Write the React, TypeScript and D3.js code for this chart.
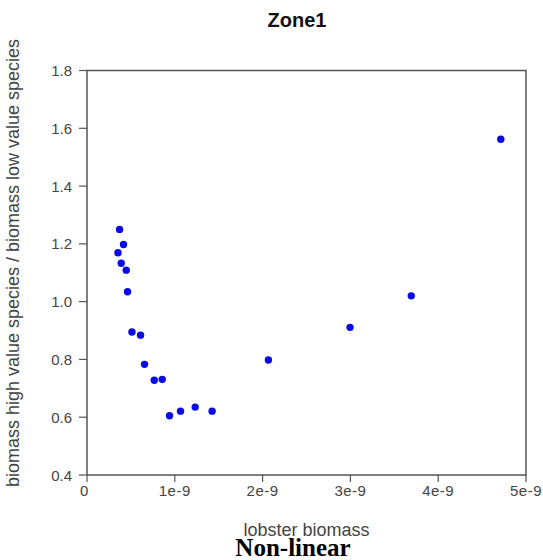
import React from "react";
import * as d3 from "d3";

// Lobster biomass (x) vs ratio of high-value to low-value species biomass (y)
const lobsterBiomass = [
  0.371e-9, 0.416e-9, 0.353e-9, 0.39e-9, 0.447e-9, 0.462e-9, 0.512e-9, 0.61e-9,
  0.655e-9, 0.766e-9, 0.857e-9, 0.94e-9, 1.065e-9, 1.232e-9, 1.425e-9, 2.066e-9,
  2.996e-9, 3.693e-9, 4.713e-9,
];
const biomassRatio = [
  1.25, 1.198, 1.169, 1.133, 1.109, 1.034, 0.895, 0.884,
  0.783, 0.728, 0.731, 0.605, 0.621, 0.635, 0.621, 0.798,
  0.911, 1.02, 1.562,
];

const xTicks = [0, 1e-9, 2e-9, 3e-9, 4e-9, 5e-9];
const xTickLabels = ["0", "1e-9", "2e-9", "3e-9", "4e-9", "5e-9"];
const yTicks = [0.4, 0.6, 0.8, 1.0, 1.2, 1.4, 1.6, 1.8];

const chartTitle = "Zone1";
const xTitle = "lobster biomass";
const yTitle = "biomass high value species / biomass low value species";
const caption = "Non-linear";

const W = 543;
const H = 560;
const plot = { left: 87, right: 526, top: 70.5, bottom: 475 };

export default function App() {
  const x = d3.scaleLinear().domain([0, 5e-9]).range([plot.left, plot.right]);
  const y = d3.scaleLinear().domain([0.4, 1.8]).range([plot.bottom, plot.top]);
  const points = lobsterBiomass.map((v, i) => ({ x: v, y: biomassRatio[i] }));
  const tickFont = "'Liberation Sans', Arial, sans-serif";
  const axisColor = "#555";

  return (
    <svg
      width={W}
      height={H}
      style={{ position: "absolute", left: 0, top: 0, background: "#fff" }}
    >
      <rect x={0} y={0} width={W} height={H} fill="#fff" />
      <text
        x={297}
        y={27}
        textAnchor="middle"
        fontFamily={tickFont}
        fontWeight="bold"
        fontSize={20}
        fill="#111"
      >
        {chartTitle}
      </text>

      {/* plot frame */}
      <rect
        x={plot.left}
        y={plot.top}
        width={plot.right - plot.left}
        height={plot.bottom - plot.top}
        fill="none"
        stroke={axisColor}
        strokeWidth={1.5}
      />

      {/* y axis ticks */}
      {yTicks.map((t) => (
        <g key={"y" + t}>
          <line
            x1={plot.left - 8}
            x2={plot.left}
            y1={y(t)}
            y2={y(t)}
            stroke={axisColor}
            strokeWidth={1.2}
          />
          <text
            x={plot.left - 15}
            y={y(t) + 5.5}
            textAnchor="end"
            fontFamily={tickFont}
            fontSize={15}
            fill="#444"
          >
            {d3.format(".1f")(t)}
          </text>
        </g>
      ))}

      {/* x axis ticks */}
      {xTicks.map((t, i) => (
        <g key={"x" + i}>
          <line
            x1={x(t)}
            x2={x(t)}
            y1={plot.bottom}
            y2={plot.bottom + 7}
            stroke={axisColor}
            strokeWidth={1.2}
          />
          <text
            x={x(t) - (i === 0 ? 2.5 : 0)}
            y={plot.bottom + 21}
            textAnchor="middle"
            fontFamily={tickFont}
            fontSize={15}
            letterSpacing={0.5}
            fill="#444"
          >
            {xTickLabels[i]}
          </text>
        </g>
      ))}

      {/* data points */}
      {points.map((p, i) => (
        <circle key={i} cx={x(p.x)} cy={y(p.y)} r={3.7} fill="#0a0ae6" />
      ))}

      <text
        x={(plot.left + plot.right) / 2}
        y={536}
        textAnchor="middle"
        fontFamily={tickFont}
        fontSize={18}
        fill="#444"
      >
        {xTitle}
      </text>
      <text
        transform={`translate(19, 263) rotate(-90)`}
        textAnchor="middle"
        fontFamily={tickFont}
        fontSize={18}
        fill="#444"
      >
        {yTitle}
      </text>
      <text
        x={293}
        y={556}
        textAnchor="middle"
        fontFamily="'Liberation Serif', 'Times New Roman', serif"
        fontWeight="bold"
        fontSize={25}
        fill="#000"
      >
        {caption}
      </text>
    </svg>
  );
}
